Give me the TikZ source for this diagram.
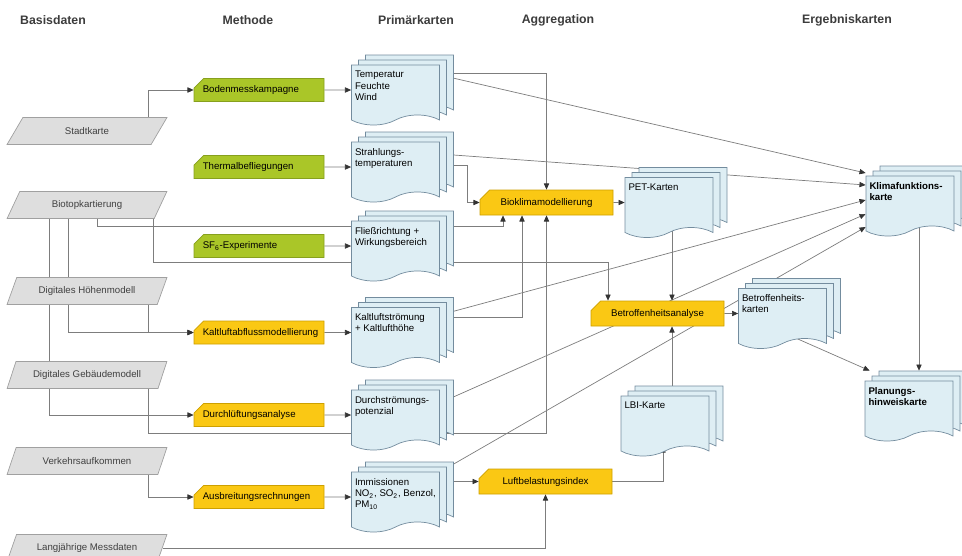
\documentclass[tikz,border=0pt]{standalone}
\usepackage{fontspec}
\setmainfont{Liberation Sans}
\usetikzlibrary{arrows.meta,shapes.geometric,shapes.misc,shapes.symbols,shadows,backgrounds}
\definecolor{basisfill}{RGB}{222,222,222}
\definecolor{basisrand}{RGB}{160,160,160}
\definecolor{gruenfill}{RGB}{170,198,40}
\definecolor{gruenrand}{RGB}{135,160,30}
\definecolor{gelbfill}{RGB}{250,200,20}
\definecolor{gelbrand}{RGB}{205,160,0}
\definecolor{kartefill}{RGB}{222,238,244}
\definecolor{karterand}{RGB}{115,140,158}
\definecolor{linie}{RGB}{125,125,125}
\definecolor{titelfarbe}{RGB}{60,60,60}
\newcommand\kt[1]{\parbox[c][0.9cm][t]{1.62cm}{\vspace*{2pt}\raggedright #1}}
\begin{document}
\begin{tikzpicture}[
  font=\fontsize{5.5}{6.5}\selectfont,
  titel/.style={font=\fontsize{7}{8}\selectfont\bfseries, text=titelfarbe},
  basis/.style={trapezium, trapezium left angle=61, trapezium right angle=119,
    trapezium stretches=true, minimum width=3.2cm, minimum height=0.54cm,
    draw=basisrand, fill=basisfill, inner sep=1pt, text=black!75},
  methode/.style={chamfered rectangle, chamfered rectangle corners=north west,
    chamfered rectangle xsep=0.4cm, chamfered rectangle ysep=0.1cm,
    minimum width=2.6cm, minimum height=0.46cm, text width=2.25cm, align=left, inner sep=0pt},
  gruen/.style={methode, draw=gruenrand, fill=gruenfill},
  gelb/.style={methode, draw=gelbrand, fill=gelbfill},
  agg/.style={gelb, minimum width=2.66cm, minimum height=0.5cm, text width=2.36cm, align=center},
  karte/.style={tape, tape bend top=none, tape bend bottom=in and out, tape bend height=0.2cm,
    minimum width=1.76cm, minimum height=1.2cm, inner sep=0pt, draw=karterand, fill=kartefill,
    copy shadow={shadow xshift=0.28cm, shadow yshift=0.2cm, fill=kartefill, draw=karterand},
    copy shadow={shadow xshift=0.14cm, shadow yshift=0.1cm, fill=kartefill, draw=karterand}},
  pfeil/.style={draw=linie, line width=0.4pt, -{Triangle[length=3.5pt,width=3pt,color=black!80]}}
]
\useasboundingbox (0,0) rectangle (19.24,11.1);

\node[titel, anchor=west] (t1) at (0.28,10.7) {Basisdaten};
\node[titel] (t2) at (4.96,10.7) {Methode};
\node[titel] (t3) at (8.32,10.7) {Primärkarten};
\node[titel] (t4) at (11.16,10.7) {Aggregation};
\node[titel] (t5) at (16.94,10.7) {Ergebniskarten};

\node[basis] (stadt) at (1.74,8.48) {Stadtkarte};
\node[basis] (bio) at (1.74,7.0) {Biotopkartierung};
\node[basis] (dhm) at (1.74,5.28) {Digitales Höhenmodell};
\node[basis] (dgm) at (1.74,3.6) {Digitales Gebäudemodell};
\node[basis] (verkehr) at (1.74,1.88) {Verkehrsaufkommen};
\node[basis] (mess) at (1.74,0.14) {Langjährige Messdaten};

\node[gruen] (boden) at (5.18,9.3) {Bodenmesskampagne};
\node[gruen] (thermal) at (5.18,7.76) {Thermalbefliegungen};
\node[gruen] (sf6) at (5.18,6.18) {SF\textsubscript{6}-Experimente};
\node[gelb] (kaltmod) at (5.18,4.45) {Kaltluftabflussmodellierung};
\node[gelb] (durchl) at (5.18,2.8) {Durchlüftungsanalyse};
\node[gelb] (ausbr) at (5.18,1.16) {Ausbreitungsrechnungen};

\node[karte] (temp) at (7.91,9.3) {\kt{Temperatur\\Feuchte\\Wind}};
\node[karte] (strahl) at (7.91,7.76) {\kt{Strahlungs-\\temperaturen}};
\node[karte] (fliess) at (7.91,6.18) {\kt{Fließrichtung +\\Wirkungsbereich}};
\node[karte] (kaltstr) at (7.91,4.45) {\kt{Kaltluftströmung\\+ Kaltlufthöhe}};
\node[karte] (durchstr) at (7.91,2.8) {\kt{Durchströmungs-\\potenzial}};
\node[karte] (immis) at (7.91,1.16) {\kt{Immissionen\\NO\textsubscript{2}, SO\textsubscript{2}, Benzol,\\PM\textsubscript{10}}};

\node[agg] (bklima) at (10.93,7.05) {Bioklimamodellierung};
\node[karte] (pet) at (13.38,7.05) {\kt{PET-Karten}};
\node[agg] (betrana) at (13.15,4.83) {Betroffenheitsanalyse};
\node[karte] (lbi) at (13.3,2.68) {\kt{LBI-Karte}};
\node[agg] (lbindex) at (10.91,1.47) {Luftbelastungsindex};

\node[karte] (betrk) at (15.65,4.83) {\kt{Betroffenheits-\\karten}};
\node[karte, font=\fontsize{5.5}{6.5}\selectfont\bfseries] (klima) at (18.2,7.08) {\kt{Klimafunktions-\\karte}};
\node[karte, font=\fontsize{5.5}{6.5}\selectfont\bfseries] (planung) at (18.18,2.98) {\kt{Planungs-\\hinweiskarte}};
\coordinate (ptop) at ([xshift=0.2cm,yshift=0.2cm]planung.north);

\begin{scope}[on background layer]
\draw[pfeil] (stadt.north -| 2.96,0) |- (boden);
\draw[pfeil] (boden) -- (temp);
\draw[pfeil] (thermal) -- (strahl);
\draw[pfeil] (sf6) -- (fliess);
\draw[pfeil] (kaltmod) -- (kaltstr);
\draw[pfeil] (durchl) -- (durchstr);
\draw[pfeil] (ausbr) -- (immis);
\draw[pfeil] (bio.south -| 1.94,0) -- (1.94,6.58) -| (bklima.south -| 10.06,0);
\draw[pfeil] (bio.south -| 3.06,0) -- (3.06,5.86) -| (betrana.north -| 12.16,0);
\draw[pfeil] (bio.south -| 1.36,0) |- (kaltmod);
\draw[pfeil] (dhm.south -| 2.96,0) |- (kaltmod);
\draw[pfeil] (bio.south -| 0.98,0) |- (durchl);
\draw[pfeil] (dgm.south -| 2.96,0) -- (2.96,2.44) -| (bklima);
\draw[pfeil] (verkehr.south -| 2.96,0) |- (ausbr);
\draw[pfeil] (mess) -| (lbindex);
\draw[pfeil] (temp.east |- 0,9.64) -| (bklima);
\draw[pfeil] (temp.east |- 0,9.6) -- (klima.west |- 0,7.64);
\draw[pfeil] (strahl.east |- 0,7.8) -- (9.34,7.8) |- (bklima);
\draw[pfeil] (strahl.east |- 0,8.02) -- (klima.west |- 0,7.4);
\draw[pfeil] (kaltstr.east |- 0,4.76) -| (bklima.south -| 10.44,0);
\draw[pfeil] (kaltstr.east |- 0,4.8) -- (klima.west |- 0,7.1);
\draw[pfeil] (durchstr.east |- 0,3.04) -- (klima.west |- 0,6.82);
\draw[pfeil] (immis.east |- 0,1.66) -- (klima.west |- 0,6.56);
\draw[pfeil] (immis.east |- lbindex.west) -- (lbindex.west);
\draw[pfeil] (bklima) -- (pet);
\draw[pfeil] (pet.south -| 13.44,0) -- (betrana.north -| 13.44,0);
\draw[pfeil] (lbi.north -| 13.44,0) -- (betrana.south -| 13.44,0);
\draw[pfeil] (lbindex) -| (lbi.south -| 13.26,0);
\draw[pfeil] (betrana) -- (betrk);
\draw[pfeil] (klima.south -| ptop) -- (ptop);
\draw[pfeil] ([xshift=0.3cm]betrk.south) -- ([xshift=0.1cm,yshift=0.2cm]planung.north west);
\end{scope}
\end{tikzpicture}
\end{document}
